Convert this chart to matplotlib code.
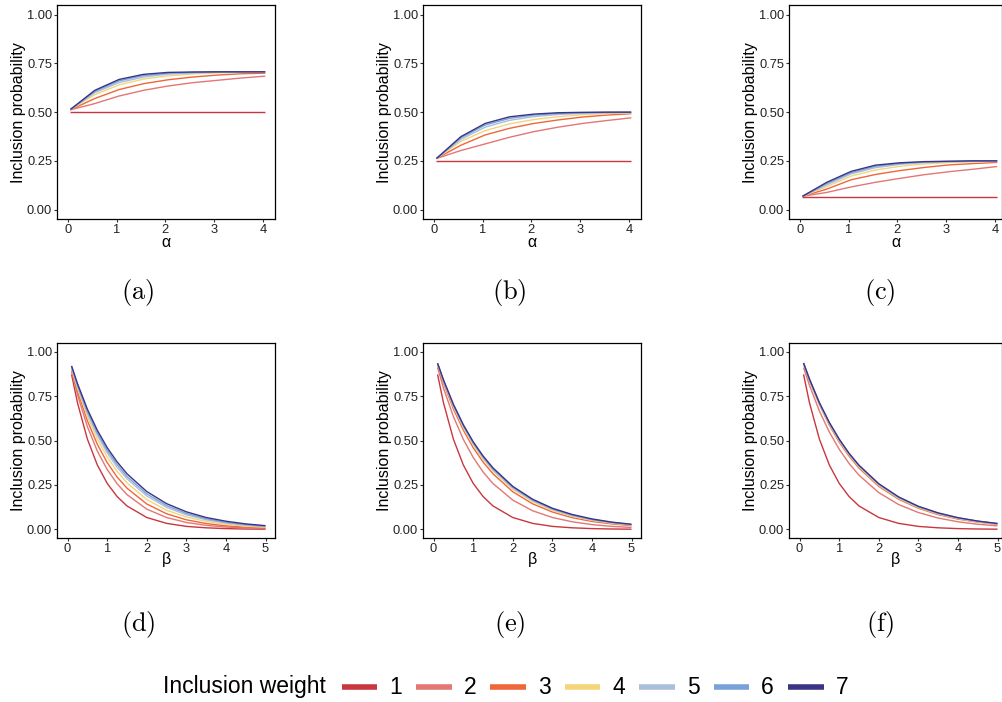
import numpy as np
import matplotlib
matplotlib.use("Agg")
from matplotlib import pyplot as plt
from matplotlib.lines import Line2D

plt.rcParams["font.family"] = ["Liberation Sans", "DejaVu Sans"]
plt.rcParams["mathtext.fontset"] = "cm"

# weights and colours
weights = [1, 2, 3, 4, 5, 6, 7]
colors = ["#C8373E", "#E27774", "#F0663A", "#F5D57A", "#A9BFDC", "#79A2D8", "#3B3486"]

# top row: inclusion probability vs alpha
alpha = [0.05, 0.55, 1.05, 1.55, 2.05, 2.55, 3.05, 3.55, 4.05]

a_w1 = [0.500, 0.500, 0.500, 0.500, 0.500, 0.500, 0.500, 0.500, 0.500]
a_w2 = [0.512, 0.544, 0.583, 0.612, 0.634, 0.651, 0.663, 0.675, 0.685]
a_w3 = [0.512, 0.570, 0.616, 0.646, 0.666, 0.680, 0.690, 0.697, 0.700]
a_w4 = [0.513, 0.590, 0.640, 0.670, 0.686, 0.696, 0.701, 0.704, 0.705]
a_w5 = [0.513, 0.600, 0.652, 0.680, 0.695, 0.701, 0.705, 0.706, 0.706]
a_w6 = [0.514, 0.607, 0.661, 0.688, 0.700, 0.704, 0.706, 0.707, 0.707]
a_w7 = [0.514, 0.612, 0.668, 0.694, 0.704, 0.706, 0.707, 0.707, 0.707]

b_w1 = [0.250, 0.250, 0.250, 0.250, 0.250, 0.250, 0.250, 0.250, 0.250]
b_w2 = [0.262, 0.303, 0.337, 0.371, 0.400, 0.423, 0.442, 0.457, 0.471]
b_w3 = [0.262, 0.330, 0.383, 0.417, 0.442, 0.460, 0.475, 0.485, 0.492]
b_w4 = [0.262, 0.350, 0.405, 0.440, 0.462, 0.477, 0.487, 0.493, 0.496]
b_w5 = [0.262, 0.360, 0.423, 0.458, 0.477, 0.488, 0.494, 0.497, 0.498]
b_w6 = [0.262, 0.368, 0.434, 0.468, 0.485, 0.493, 0.497, 0.499, 0.500]
b_w7 = [0.262, 0.374, 0.442, 0.476, 0.490, 0.497, 0.499, 0.500, 0.500]

c_w1 = [0.0625, 0.0625, 0.0625, 0.0625, 0.0625, 0.0625, 0.0625, 0.0625, 0.0625]
c_w2 = [0.068, 0.088, 0.116, 0.140, 0.160, 0.179, 0.194, 0.207, 0.221]
c_w3 = [0.068, 0.105, 0.153, 0.180, 0.200, 0.216, 0.229, 0.236, 0.242]
c_w4 = [0.068, 0.118, 0.172, 0.203, 0.222, 0.234, 0.241, 0.245, 0.247]
c_w5 = [0.068, 0.127, 0.183, 0.215, 0.232, 0.241, 0.245, 0.248, 0.249]
c_w6 = [0.068, 0.134, 0.190, 0.222, 0.237, 0.244, 0.247, 0.249, 0.250]
c_w7 = [0.068, 0.140, 0.196, 0.228, 0.240, 0.246, 0.248, 0.250, 0.250]

# bottom row: inclusion probability vs beta
beta = [0.1, 0.25, 0.5, 0.75, 1.0, 1.25, 1.5, 2.0, 2.5, 3.0, 3.5, 4.0, 4.5, 5.0]

d_w1 = [0.872, 0.712, 0.508, 0.363, 0.259, 0.185, 0.132, 0.067, 0.034, 0.017, 0.009, 0.0045, 0.0023, 0.0012]
d_w2 = [0.890, 0.757, 0.578, 0.441, 0.337, 0.257, 0.196, 0.114, 0.067, 0.039, 0.023, 0.013, 0.008, 0.0045]
d_w3 = [0.900, 0.778, 0.611, 0.479, 0.376, 0.295, 0.232, 0.143, 0.088, 0.054, 0.033, 0.020, 0.013, 0.008]
d_w4 = [0.905, 0.793, 0.635, 0.509, 0.408, 0.327, 0.262, 0.168, 0.108, 0.070, 0.045, 0.029, 0.018, 0.012]
d_w5 = [0.910, 0.803, 0.653, 0.531, 0.431, 0.350, 0.285, 0.188, 0.124, 0.082, 0.054, 0.036, 0.024, 0.016]
d_w6 = [0.915, 0.811, 0.664, 0.544, 0.445, 0.365, 0.298, 0.200, 0.134, 0.090, 0.060, 0.040, 0.027, 0.018]
d_w7 = [0.920, 0.820, 0.676, 0.558, 0.460, 0.380, 0.313, 0.213, 0.145, 0.099, 0.067, 0.046, 0.031, 0.021]

e_w1 = [0.872, 0.712, 0.508, 0.363, 0.259, 0.185, 0.132, 0.067, 0.034, 0.017, 0.009, 0.0045, 0.0023, 0.0012]
e_w2 = [0.910, 0.795, 0.635, 0.507, 0.405, 0.323, 0.258, 0.165, 0.105, 0.067, 0.043, 0.027, 0.017, 0.011]
e_w3 = [0.925, 0.823, 0.678, 0.559, 0.460, 0.379, 0.313, 0.212, 0.144, 0.098, 0.066, 0.045, 0.031, 0.021]
e_w4 = [0.930, 0.831, 0.690, 0.573, 0.476, 0.395, 0.328, 0.226, 0.156, 0.107, 0.074, 0.051, 0.035, 0.024]
e_w5 = [0.932, 0.835, 0.696, 0.580, 0.483, 0.403, 0.335, 0.233, 0.162, 0.112, 0.078, 0.054, 0.038, 0.026]
e_w6 = [0.934, 0.838, 0.700, 0.585, 0.488, 0.408, 0.341, 0.238, 0.166, 0.116, 0.081, 0.056, 0.039, 0.027]
e_w7 = [0.935, 0.841, 0.704, 0.589, 0.493, 0.413, 0.346, 0.242, 0.170, 0.119, 0.084, 0.059, 0.041, 0.029]

f_w1 = [0.872, 0.712, 0.508, 0.363, 0.259, 0.185, 0.132, 0.067, 0.034, 0.017, 0.009, 0.0045, 0.0023, 0.0012]
f_w2 = [0.910, 0.810, 0.666, 0.548, 0.451, 0.371, 0.305, 0.207, 0.140, 0.095, 0.064, 0.043, 0.029, 0.020]
f_w3 = [0.932, 0.838, 0.702, 0.587, 0.491, 0.412, 0.345, 0.242, 0.170, 0.119, 0.083, 0.058, 0.041, 0.029]
f_w4 = [0.934, 0.841, 0.706, 0.593, 0.498, 0.419, 0.352, 0.248, 0.175, 0.123, 0.087, 0.061, 0.043, 0.031]
f_w5 = [0.935, 0.843, 0.709, 0.597, 0.503, 0.423, 0.356, 0.252, 0.178, 0.126, 0.089, 0.063, 0.045, 0.032]
f_w6 = [0.935, 0.844, 0.711, 0.600, 0.506, 0.426, 0.359, 0.255, 0.181, 0.128, 0.091, 0.065, 0.046, 0.033]
f_w7 = [0.936, 0.845, 0.713, 0.602, 0.508, 0.428, 0.361, 0.257, 0.183, 0.130, 0.093, 0.066, 0.047, 0.033]

panels = [
    ("(a)", alpha, [a_w1, a_w2, a_w3, a_w4, a_w5, a_w6, a_w7]),
    ("(b)", alpha, [b_w1, b_w2, b_w3, b_w4, b_w5, b_w6, b_w7]),
    ("(c)", alpha, [c_w1, c_w2, c_w3, c_w4, c_w5, c_w6, c_w7]),
    ("(d)", beta, [d_w1, d_w2, d_w3, d_w4, d_w5, d_w6, d_w7]),
    ("(e)", beta, [e_w1, e_w2, e_w3, e_w4, e_w5, e_w6, e_w7]),
    ("(f)", beta, [f_w1, f_w2, f_w3, f_w4, f_w5, f_w6, f_w7]),
]

W, H = 1003, 702
fig = plt.figure(figsize=(W / 100, H / 100), dpi=100)

# panel boxes in pixels (left, top, width, height)
col_left = [57.3, 423.3, 789.3]
col_width = [217.7, 217.7, 212.7]
row_top = [5.0, 342.7]
row_height = [214.3, 195.6]
row_xlim = [(-0.22, 4.25), (-0.26, 5.24)]
row_xticks = [[0, 1, 2, 3, 4], [0, 1, 2, 3, 4, 5]]
row_xlabel = ["α", "β"]
row_xlabel_off = [23.5, 21]
tag_pos = [(138, 293), (509, 293), (880, 293), (138, 625), (510, 625), (880, 625)]

for i, (tag, xs, series) in enumerate(panels):
    r, c = divmod(i, 3)
    l, t = col_left[c], row_top[r]
    w, h = col_width[c], row_height[r]
    ax = fig.add_axes([l / W, 1 - (t + h) / H, w / W, h / H])
    for ys, col in zip(series, colors):
        ax.plot(xs, ys, color=col, lw=1.0, solid_capstyle="butt")
    x0, x1 = row_xlim[r]
    x1 = x0 + (x1 - x0) * w / col_width[0]
    ax.set_xlim(x0, x1)
    ax.set_ylim(-0.05, 1.05)
    ax.set_xticks(row_xticks[r])
    ax.set_yticks([0, 0.25, 0.5, 0.75, 1.0])
    ax.set_yticklabels(["0.00", "0.25", "0.50", "0.75", "1.00"])
    ax.tick_params(length=2.5, width=0.8, pad=1.2, labelsize=9.3,
                   labelcolor="#222222", color="#333333")
    for sp in ax.spines.values():
        sp.set_linewidth(0.9)
        sp.set_color("black")
    ax.set_ylabel("Inclusion probability", fontsize=11.5, color="black")
    ax.yaxis.label.set_va("center")
    ax.yaxis.set_label_coords(-39 / w, 0.5)
    ax.set_xlabel(row_xlabel[r], fontsize=11.5, color="black")
    ax.xaxis.label.set_va("center")
    ax.xaxis.set_label_coords(0.5, -row_xlabel_off[r] / h)
    fig.text(tag_pos[i][0] / W, 1 - tag_pos[i][1] / H, r"$\mathrm{" + tag + "}$",
             fontsize=19, ha="center", va="center")

# legend strip along the bottom
leg_y = 1 - 687 / H
fig.text(163 / W, leg_y, "Inclusion weight", fontsize=16.5, ha="left", va="center")
key_start, key_step, key_len = 341.7, 74.4, 35.5
for k, (wt, col) in enumerate(zip(weights, colors)):
    kx = key_start + k * key_step
    fig.add_artist(Line2D([kx / W, (kx + key_len) / W], [leg_y, leg_y],
                          color=col, lw=4.0, solid_capstyle="butt"))
    fig.text((kx + 54) / W, leg_y, str(wt), fontsize=16.5, ha="center", va="center")

fig.savefig("out.png", dpi=100)
